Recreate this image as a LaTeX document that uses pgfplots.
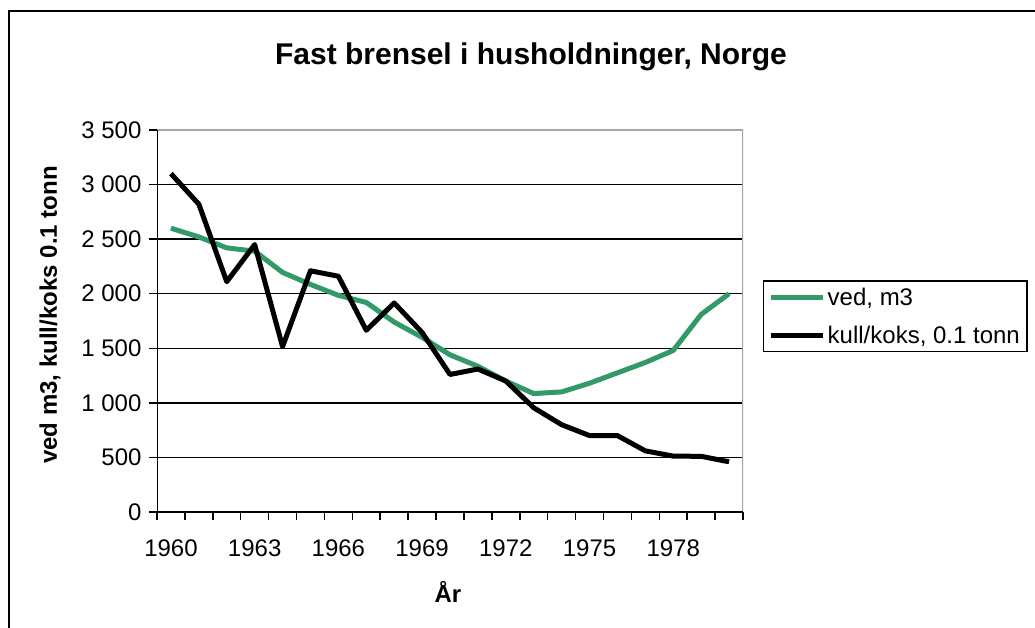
\documentclass[border=0pt]{standalone}
\usepackage{fontspec}
\setmainfont{Liberation Sans}
\usepackage{pgfplots}
\pgfplotsset{compat=1.18}
\definecolor{ved}{RGB}{51,153,102}
\begin{document}
\begin{tikzpicture}
\useasboundingbox (0pt,0pt) rectangle (1035pt,628pt);
\clip (0pt,0pt) rectangle (1035pt,628pt);
\fill[white] (0pt,0pt) rectangle (1035pt,628pt);
\draw[line width=2.2pt] (9pt,-10pt) -- (9pt,617pt) -- (1050pt,617pt);
\node[font=\fontsize{30}{36}\selectfont\bfseries] at (531pt,571pt) {Fast brensel i husholdninger, Norge};
\node[font=\fontsize{24}{28}\selectfont\bfseries, rotate=90] at (50pt,313pt) {ved m3, kull/koks 0.1 tonn};
\node[font=\fontsize{24}{28}\selectfont\bfseries] at (448pt,36pt) {År};
\begin{axis}[
  at={(157pt,116pt)}, anchor=south west, scale only axis,
  width=586pt, height=382pt,
  xmin=-0.5, xmax=20.5, ymin=0, ymax=3500,
  axis line style={draw=none},
  xtick={-0.5,0.5,...,20.5}, xticklabels={},
  extra x ticks={0,3,6,9,12,15,18},
  extra x tick labels={1960,1963,1966,1969,1972,1975,1978},
  extra x tick style={major tick length=0pt, grid=none, tick style={draw=none}},
  ytick={0,500,...,3500},
  yticklabels={0,500,1 000,1 500,2 000,2 500,3 000,3 500},
  xtick pos=bottom, ytick pos=left,
  tick align=outside, major tick length=8pt,
  tick style={black, line width=1.5pt},
  ymajorgrids, grid style={black, line width=1.5pt},
  ticklabel style={font=\fontsize{24}{28}\selectfont},
  xticklabel style={yshift=-24pt},
  yticklabel style={xshift=-4pt},
  legend style={at={(1.0341,0.6073)}, anchor=north west, draw=black, line width=1.5pt,
    font=\fontsize{24}{28}\selectfont, inner xsep=5pt, inner ysep=5pt,
    row sep=15pt, cells={anchor=west},
    /tikz/every even column/.append style={column sep=8pt}},
  legend image code/.code={\draw[#1, line width=5pt] (0pt,0pt) -- (52pt,0pt);},
]
\draw[gray!70, line width=1.5pt] (rel axis cs:0,1) -- (rel axis cs:1,1) -- (rel axis cs:1,0);
\draw[black, line width=2pt] (rel axis cs:0,1) -- (rel axis cs:0,0) -- (rel axis cs:1,0);
\addplot[ved, line width=5pt, line join=round] coordinates {
(0,2600) (1,2520) (2,2420) (3,2390) (4,2195) (5,2085) (6,1985) (7,1920) (8,1740) (9,1600)
(10,1440) (11,1335) (12,1200) (13,1085) (14,1100) (15,1180) (16,1275) (17,1370) (18,1480) (19,1810) (20,2000)};
\addlegendentry{ved, m3}
\addplot[black, line width=5pt, line join=round] coordinates {
(0,3100) (1,2820) (2,2110) (3,2450) (4,1515) (5,2210) (6,2160) (7,1665) (8,1915) (9,1645)
(10,1260) (11,1310) (12,1200) (13,955) (14,800) (15,700) (16,700) (17,560) (18,512) (19,510) (20,460)};
\addlegendentry{kull/koks, 0.1 tonn}
\end{axis}
\end{tikzpicture}
\end{document}
